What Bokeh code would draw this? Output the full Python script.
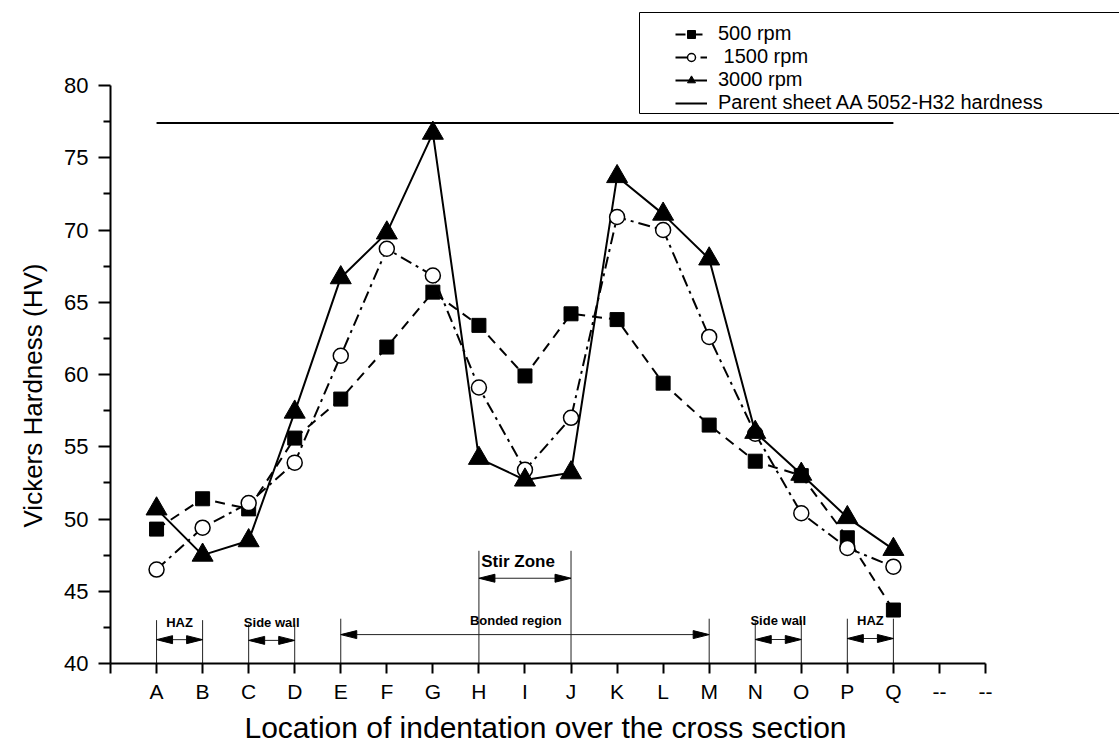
import numpy as np
from bokeh.plotting import figure
from bokeh.models import (Range1d, FixedTicker, Legend, LegendItem, BoxAnnotation, Title)
from bokeh.core.properties import value
from bokeh.embed import file_html
from bokeh.resources import INLINE

# ---------------- data ----------------
locations = ["A", "B", "C", "D", "E", "F", "G", "H", "I", "J", "K", "L", "M", "N", "O", "P", "Q"]
extra_ticks = ["--", "--"]

hv_500 = [49.3, 51.4, 50.7, 55.6, 58.3, 61.9, 65.7, 63.4, 59.9, 64.2, 63.8, 59.4, 56.5, 54.0, 53.0, 48.7, 43.7]
hv_1500 = [46.5, 49.4, 51.1, 53.9, 61.3, 68.7, 66.85, 59.1, 53.4, 57.0, 70.9, 70.0, 62.6, 55.9, 50.4, 48.0, 46.7]
hv_3000 = [50.7, 47.5, 48.5, 57.4, 66.7, 69.8, 76.7, 54.2, 52.7, 53.2, 73.7, 71.1, 68.0, 56.0, 53.1, 50.1, 47.9]
parent_hv = 77.4

y_ticks = [40, 45, 50, 55, 60, 65, 70, 75, 80]

zone_labels = ["HAZ", "Side wall", "Bonded region", "Stir Zone", "Side wall", "HAZ"]
zone_start = ["A", "C", "E", "H", "N", "P"]
zone_end = ["B", "D", "M", "J", "O", "Q"]
zone_top = [43.0, 42.7, 43.1, 47.8, 43.0, 43.1]
zone_arrow_y = [41.65, 41.6, 42.0, 45.9, 41.66, 41.73]
zone_text_y = [42.87, 42.87, 43.0, 47.06, 42.95, 42.97]
zone_text_shift = [0.0, 0.0, -0.2, -0.15, 0.0, 0.0]

x_title = "Location of indentation over the cross section"
y_title = "Vickers Hardness (HV)"

# ---------------- layout ----------------
W, H = 1119, 747
LEFT, BOTTOM = 110, 84
FW, FH = W - LEFT, H - BOTTOM
n_ticks = len(locations) + len(extra_ticks)  # 19 tick positions after origin
x_start = 0
x_end = n_ticks * FW / 875.0
y_start = 40
y_end = 40 + 40 * FH / 578.0

xpos = {c: i + 1 for i, c in enumerate(locations)}
xs = [xpos[c] for c in locations]

p = figure(width=W, height=H, output_backend="svg", toolbar_location=None,
           x_range=Range1d(x_start, x_end), y_range=Range1d(y_start, y_end),
           min_border_left=LEFT, min_border_right=0, min_border_top=0,
           min_border_bottom=BOTTOM)
p.outline_line_color = None
p.xgrid.visible = False
p.ygrid.visible = False
p.background_fill_color = "white"
p.border_fill_color = "white"

FONT = "Liberation Sans"

# axes
ax = p.xaxis[0]
ax.ticker = FixedTicker(ticks=list(range(0, n_ticks + 1)), minor_ticks=[])
ax.major_label_overrides = {0: ""} | {xpos[c]: c for c in locations} | {
    len(locations) + 1 + i: t for i, t in enumerate(extra_ticks)}
ax.bounds = (0, n_ticks)
ax.axis_line_width = 2
ax.major_tick_line_width = 2
ax.major_tick_out = 10
ax.major_tick_in = 0
ax.major_label_standoff = 6
ax.major_label_text_font = FONT
ax.major_label_text_font_size = "21px"
ax.major_label_text_color = "black"

ay = p.yaxis[0]
ay.ticker = FixedTicker(ticks=y_ticks,
                        minor_ticks=[t + 2.5 for t in y_ticks[:-1]])
ay.bounds = (40, 80)
ay.axis_line_width = 2
ay.major_tick_line_width = 2
ay.minor_tick_line_width = 2
ay.major_tick_out = 12
ay.major_tick_in = 0
ay.minor_tick_out = 7
ay.minor_tick_in = 0
ay.major_label_standoff = 10
ay.major_label_text_font = FONT
ay.major_label_text_font_size = "22px"
ay.major_label_text_color = "black"

# axis titles (offset from the frame edge as in the reference)
p.add_layout(Title(text=x_title, align="left", offset=134, standoff=6,
                   text_font=FONT, text_font_size="30px", text_font_style="normal",
                   text_color="black"), "below")
p.add_layout(Title(text=y_title, align="left", offset=136, standoff=27,
                   text_font=FONT, text_font_size="26px", text_font_style="normal",
                   text_color="black"), "left")

# ---------------- zone annotations ----------------
xpx = FW / (x_end - x_start)
ypx = FH / (y_end - y_start)
head_len = 16 / xpx
head_half = 4 / ypx

vx, vy0, vy1 = [], [], []
shaft_x0, shaft_x1, shaft_y = [], [], []
head_xs, head_ys = [], []
tx, ty = [], []
for lab, s, e, top, ay_, ty_, sh in zip(zone_labels, zone_start, zone_end, zone_top,
                                        zone_arrow_y, zone_text_y, zone_text_shift):
    x0, x1 = xpos[s], xpos[e]
    for xx in (x0, x1):
        vx.append(xx); vy0.append(40); vy1.append(top)
    shaft_x0.append(x0 + head_len); shaft_x1.append(x1 - head_len); shaft_y.append(ay_)
    head_xs.append([x0, x0 + head_len, x0 + head_len])
    head_ys.append([ay_, ay_ + head_half, ay_ - head_half])
    head_xs.append([x1, x1 - head_len, x1 - head_len])
    head_ys.append([ay_, ay_ + head_half, ay_ - head_half])
    tx.append((x0 + x1) / 2 + sh); ty.append(ty_)

p.segment(x0=vx, y0=vy0, x1=vx, y1=vy1, line_color="#222222", line_width=1)
p.segment(x0=shaft_x0, y0=shaft_y, x1=shaft_x1, y1=shaft_y, line_color="#222222", line_width=1)
p.patches(xs=head_xs, ys=head_ys, fill_color="black", line_color="black", line_width=1)

sizes = ["13px" if l in ("HAZ", "Side wall", "Bonded region") else "17px" for l in zone_labels]
p.text(x=tx, y=ty, text=zone_labels, text_font=value(FONT), text_font_style="bold",
       text_font_size=sizes, text_align="center", text_baseline="middle", text_color="black")

# ---------------- data series ----------------
l_par = p.line([xpos[locations[0]], xpos[locations[-1]]], [parent_hv, parent_hv],
               line_color="black", line_width=2)

l500 = p.line(xs, hv_500, line_color="black", line_width=2, line_dash="10 7")
l1500 = p.line(xs, hv_1500, line_color="black", line_width=2, line_dash="12 5 3 5")
l3000 = p.line(xs, hv_3000, line_color="black", line_width=2)

m500 = p.scatter(xs, hv_500, marker="square", size=14, fill_color="black", line_color="black")
m1500 = p.scatter(xs, hv_1500, marker="circle", size=15, fill_color="white",
                  line_color="black", line_width=1.5)
m3000 = p.scatter(xs, hv_3000, marker="triangle", size=21, fill_color="black", line_color="black")

# ---------------- legend ----------------
box = BoxAnnotation(left=639, right=1140, top=12, bottom=113,
                    left_units="canvas", right_units="canvas",
                    top_units="canvas", bottom_units="canvas",
                    fill_color="white", fill_alpha=1, line_color="black", line_width=1,
                    line_alpha=1)
p.add_layout(box)

legend = Legend(items=[
    LegendItem(label="500 rpm", renderers=[l500, m500]),
    LegendItem(label=" 1500 rpm", renderers=[l1500, m1500]),
    LegendItem(label="3000 rpm", renderers=[l3000, m3000]),
    LegendItem(label="Parent sheet AA 5052-H32 hardness", renderers=[l_par]),
], location=(565, FH - 114), glyph_width=32, glyph_height=20, label_height=20,
    label_standoff=11, spacing=0, padding=0, margin=0,
    border_line_color=None, background_fill_alpha=0,
    label_text_font=FONT, label_text_font_size="20px", label_text_color="black")
p.add_layout(legend)

open("out.html", "w").write(file_html(p, INLINE))
